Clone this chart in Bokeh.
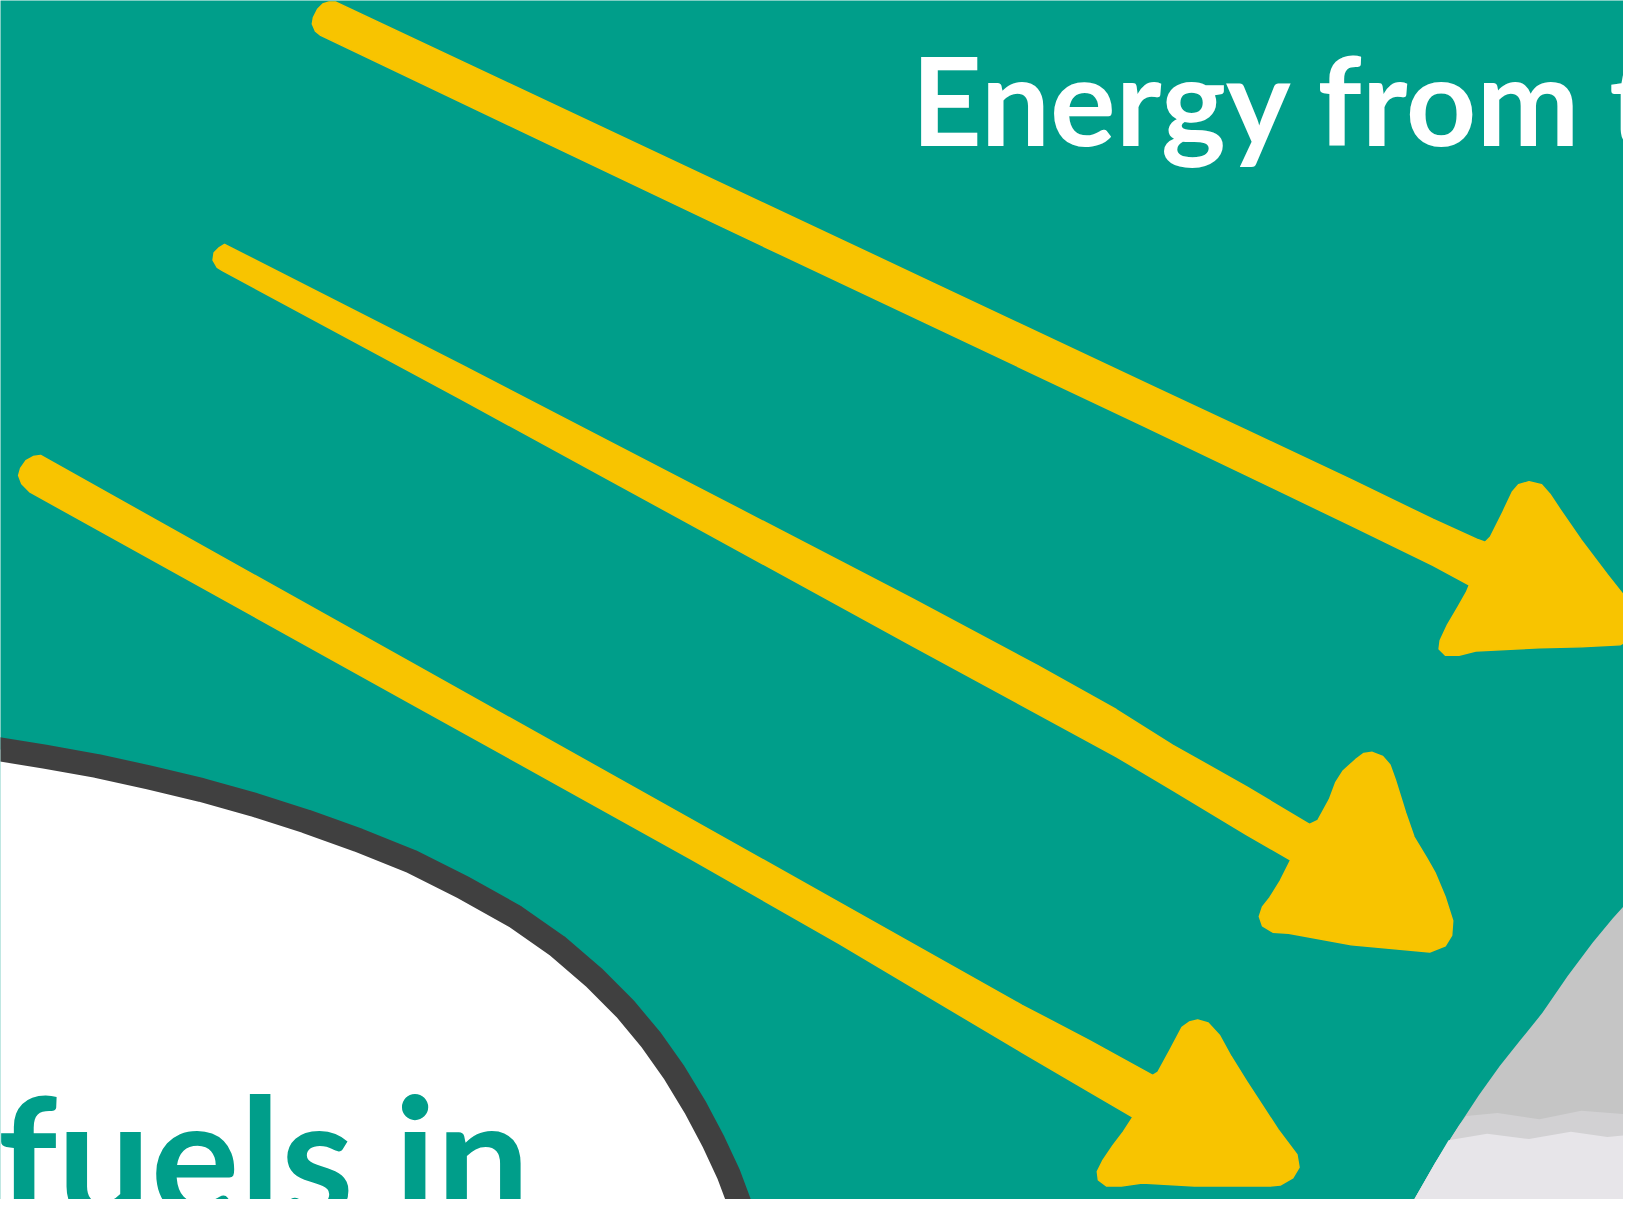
from bokeh.plotting import figure
from bokeh.models import Range1d
from bokeh.core.properties import value
from bokeh.embed import file_html
from bokeh.resources import INLINE

# ---- colours ----
TEAL = "#009E8A"
YELLOW = "#F8C400"
DARK = "#404040"
GREY = "#C5C5C5"
GREY_MID = "#D2D1D3"
GREY_LIGHT = "#E7E5E9"

# ---- outlines (picture coordinates, y downward) ----
ARROW1 = [(328, 9), (900, 278), (1110, 377), (1200, 419), (1300, 466), (1378, 504), (1420, 523), (1428, 526),
          (1433, 521), (1445, 497), (1454, 478), (1460, 471), (1470, 468), (1482, 471), (1490, 480), (1500, 495),
          (1520, 524), (1545, 557), (1568, 586), (1575, 596), (1575, 612), (1565, 620), (1557, 624), (1520, 626),
          (1480, 627), (1457, 628), (1419, 630), (1403, 634), (1390, 634), (1384, 628), (1385, 620), (1392, 605),
          (1402, 588), (1410, 574), (1413, 567), (1378, 548), (1300, 510), (1200, 462), (1100, 414), (700, 225),
          (314, 41), (309, 37), (306, 30), (307, 24), (311, 16), (316, 11), (322, 9)]

ARROW2 = [(222, 241), (450, 357), (670, 471), (880, 580), (1000, 644), (1075, 686), (1129, 720), (1200, 760),
          (1260, 796), (1268, 792), (1279, 772), (1285, 756), (1292, 745), (1304, 734), (1312, 728), (1320, 727),
          (1330, 731), (1337, 739), (1342, 753), (1348, 772), (1352, 785), (1360, 808), (1372, 828), (1380, 842),
          (1390, 866), (1397, 888), (1396, 902), (1390, 912), (1375, 918), (1300, 911), (1240, 900), (1225, 899),
          (1215, 893), (1212, 884), (1215, 875), (1222, 866), (1232, 850), (1242, 830), (1200, 806), (1129, 763),
          (1075, 731), (880, 625), (670, 510), (450, 390), (220, 266), (215, 263), (211, 256), (212, 249),
          (217, 244)]

ARROW3 = [(46, 443), (400, 641), (670, 792), (800, 865), (985, 969), (1050, 1003), (1110, 1036), (1115, 1033),
          (1127, 1011), (1138, 990), (1145, 985), (1153, 983), (1163, 986), (1174, 998), (1185, 1018),
          (1200, 1042), (1215, 1065), (1230, 1088), (1248, 1112), (1250, 1124), (1244, 1134), (1232, 1141),
          (1222, 1142), (1150, 1142), (1100, 1139), (1080, 1142), (1066, 1142), (1058, 1136), (1057, 1128),
          (1062, 1118), (1072, 1103), (1082, 1090), (1091, 1076), (1050, 1052), (985, 1014), (810, 910),
          (670, 830), (400, 680), (36, 478), (28, 470), (25, 462), (27, 455), (32, 448), (39, 444)]

EARTH_EDGE = [(-10, 721), (0, 723), (50, 731), (100, 740), (150, 751), (200, 763), (250, 777), (300, 793),
              (350, 811), (400, 831), (450, 856), (500, 884), (540, 912), (575, 942), (605, 972), (630, 1002),
              (652, 1033), (672, 1066), (690, 1100), (704, 1130), (716, 1162), (728, 1195)]
EARTH_FILL_CLOSE = [(-10, 1200)]

GREY_AREA = [(1575, 858), (1568, 866), (1550, 886), (1531, 909), (1507, 941), (1483, 976), (1462, 1002),
             (1442, 1027), (1422, 1055), (1403, 1084), (1380, 1120), (1356, 1162), (1340, 1190), (1575, 1190)]
GREY_MID_AREA = [(1410, 1075), (1440, 1072), (1480, 1078), (1520, 1070), (1575, 1074), (1575, 1190),
                 (1340, 1190), (1356, 1162), (1380, 1120), (1403, 1084)]
GREY_LIGHT_AREA = [(1393, 1098), (1430, 1092), (1470, 1097), (1510, 1090), (1545, 1095), (1575, 1092),
                   (1575, 1190), (1340, 1190), (1356, 1162), (1380, 1120)]

TITLE_TEXT = ["Energy from the Sun"]
TITLE_X = [879]
TITLE_Y = [101]
SIDE_TEXT = ["fuels in"]
SIDE_X = [5]
SIDE_Y = [1111]


def xs(pts):
    return [a for a, b in pts]


def ys(pts):
    return [b for a, b in pts]


p = figure(width=1623, height=1199,
           x_range=Range1d(7.65, 1560.4), y_range=Range1d(1154.8, 7.65),
           output_backend="svg", toolbar_location=None, min_border=0)
p.axis.visible = False
p.grid.visible = False
p.outline_line_color = None
p.background_fill_color = TEAL
p.border_fill_color = TEAL

# white globe area with dark rim
earth = EARTH_EDGE + EARTH_FILL_CLOSE
p.patch(xs(earth), ys(earth), fill_color="white", line_color=None)
p.line(xs(EARTH_EDGE), ys(EARTH_EDGE), line_color=DARK, line_width=24, line_join="round")

# grey area bottom right
p.patch(xs(GREY_AREA), ys(GREY_AREA), fill_color=GREY, line_color=None)
p.patch(xs(GREY_MID_AREA), ys(GREY_MID_AREA), fill_color=GREY_MID, line_color=None)
p.patch(xs(GREY_LIGHT_AREA), ys(GREY_LIGHT_AREA), fill_color=GREY_LIGHT, line_color=None)

# yellow arrows
for arr in (ARROW1, ARROW2, ARROW3):
    p.patch(xs(arr), ys(arr), fill_color=YELLOW, line_color=YELLOW, line_width=1.5, line_join="round")

# texts
p.text(x=TITLE_X, y=TITLE_Y, text=TITLE_TEXT, text_font=value("Lato"), text_font_style="bold",
       text_font_size=value("123px"), text_color="white", text_baseline="alphabetic", text_align="left")
p.text(x=SIDE_X, y=SIDE_Y, text=SIDE_TEXT, text_font=value("Lato"), text_font_style="bold",
       text_font_size=value("166px"), text_color=TEAL, text_baseline="alphabetic", text_align="left")

open("out.html", "w").write(file_html(p, INLINE))
